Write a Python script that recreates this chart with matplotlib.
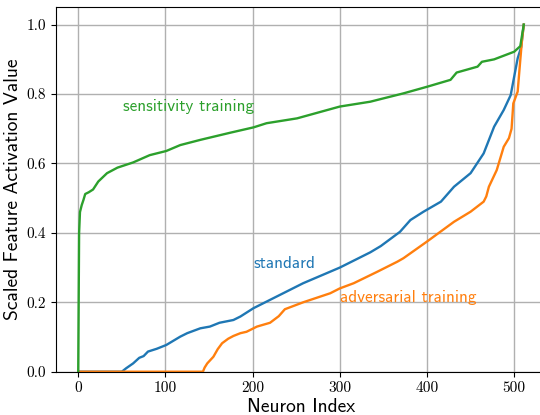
import numpy as np
import matplotlib
matplotlib.use("Agg")
import matplotlib.pyplot as plt

plt.rcParams['axes.formatter.use_mathtext'] = True

# sorted activations (index, value)
std_idx = [0, 50, 55, 63, 70, 75, 80, 90, 101, 117, 125, 140, 151, 162, 178, 186, 201,
           220, 258, 300, 335, 347, 369, 381, 396, 416, 431, 450, 465, 477, 488, 496, 500,
           504, 508, 511]
std_val = [0, 0, 0.010, 0.024, 0.040, 0.045, 0.058, 0.066, 0.077, 0.101, 0.111, 0.125,
           0.130, 0.141, 0.149, 0.159, 0.183, 0.207, 0.255, 0.300, 0.344, 0.362, 0.403,
           0.437, 0.461, 0.490, 0.533, 0.572, 0.629, 0.706, 0.754, 0.797, 0.850, 0.903,
           0.935, 1.0]

adv_idx = [0, 143, 145, 148, 155, 160, 165, 172, 178, 186, 193, 205, 220, 230, 237, 258,
           289, 300, 316, 343, 366, 373, 400, 431, 450, 465, 468, 471, 480, 488, 494, 497,
           499, 504, 507, 509, 511]
adv_val = [0, 0, 0.012, 0.024, 0.043, 0.065, 0.082, 0.095, 0.103, 0.111, 0.115, 0.130,
           0.141, 0.160, 0.180, 0.200, 0.226, 0.240, 0.255, 0.288, 0.317, 0.327, 0.375,
           0.432, 0.461, 0.490, 0.505, 0.533, 0.581, 0.648, 0.673, 0.700, 0.773, 0.807,
           0.898, 0.956, 1.0]

sen_idx = [0, 1, 2, 4, 6, 8, 12, 17, 23, 33, 45, 63, 82, 101, 117, 140, 175, 201, 216,
           251, 300, 335, 346, 373, 400, 427, 434, 458, 463, 477, 500, 507, 511]
sen_val = [0, 0.40, 0.46, 0.48, 0.495, 0.512, 0.517, 0.525, 0.548, 0.572, 0.588, 0.603,
           0.624, 0.636, 0.653, 0.668, 0.689, 0.704, 0.716, 0.730, 0.764, 0.778, 0.785,
           0.802, 0.821, 0.841, 0.862, 0.879, 0.893, 0.900, 0.922, 0.938, 1.0]

fig = plt.figure(figsize=(5.4, 4.15), dpi=100)
ax = fig.add_axes([56/540, 1-371.7/415, 490/540, (371.7-7.3)/415])

ax.plot(std_idx, std_val, color='C0', lw=1.7)
ax.plot(adv_idx, adv_val, color='C1', lw=1.7)
ax.plot(sen_idx, sen_val, color='C2', lw=1.7)

ax.text(51, 0.763, "sensitivity training", color='C2', fontsize=12.3,
        family='cmss10', va='center')
ax.text(201, 0.312, "standard", color='C0', fontsize=12.3,
        family='cmss10', va='center')
ax.text(300, 0.213, "adversarial training", color='C1', fontsize=12.3,
        family='cmss10', va='center')

ax.set_xlim(-25.5, 536.5)
ax.set_ylim(0, 1.05)
ax.set_xticks([0, 100, 200, 300, 400, 500])
ax.set_yticks([0.0, 0.2, 0.4, 0.6, 0.8, 1.0])
ax.set_xticklabels(["0", "100", "200", "300", "400", "500"], family='cmr10', fontsize=11)
ax.set_yticklabels(["0.0", "0.2", "0.4", "0.6", "0.8", "1.0"], family='cmr10', fontsize=11)
ax.grid(True, color='#b0b0b0', lw=1)
ax.set_axisbelow(True)

ax.set_xlabel("Neuron Index", family='cmss10', fontsize=14, labelpad=2)
ax.set_ylabel("Scaled Feature Activation Value", family='cmss10', fontsize=14, labelpad=3)

fig.savefig("out.png", dpi=100)
